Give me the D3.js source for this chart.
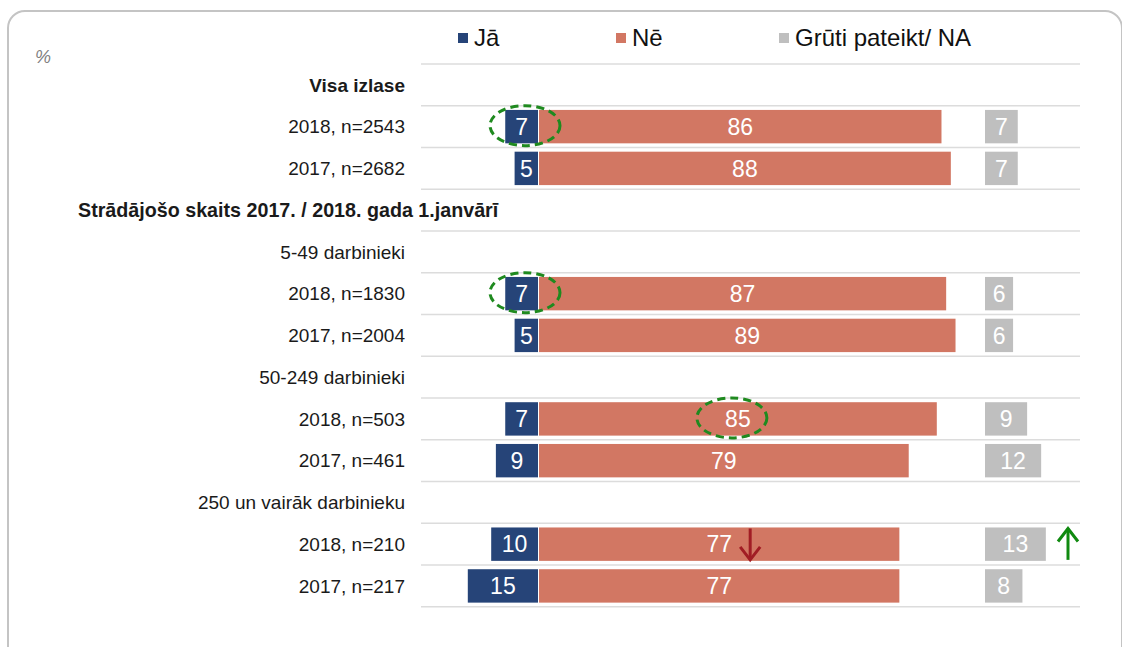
<!DOCTYPE html>
<html>
<head>
<meta charset="utf-8">
<script src="https://cdn.jsdelivr.net/npm/d3@7/dist/d3.min.js"></script>
<style>
  html, body { margin: 0; padding: 0; background: #ffffff; }
  svg { display: block; font-family: "Liberation Sans", Arial, sans-serif; }
</style>
</head>
<body>
<svg id="chart" width="1122" height="647"></svg>
<script>
// Row labels, top to bottom
const categories = [
  "Visa izlase",
  "2018, n=2543",
  "2017, n=2682",
  "Strādājošo skaits 2017. / 2018. gada 1.janvārī",
  "5-49 darbinieki",
  "2018, n=1830",
  "2017, n=2004",
  "50-249 darbinieki",
  "2018, n=503",
  "2017, n=461",
  "250 un vairāk darbinieku",
  "2018, n=210",
  "2017, n=217"
];
// Group heading rows (bold)
const headingRows = [0, 3];
// Series values, % (null = heading row without bars)
const ja  = [null, 7, 5, null, null, 7, 5, null, 7, 9, null, 10, 15];
const ne  = [null, 86, 88, null, null, 87, 89, null, 85, 79, null, 77, 77];
const na  = [null, 7, 7, null, null, 6, 6, null, 9, 12, null, 13, 8];
const seriesNames = ["Jā", "Nē", "Grūti pateikt/ NA"];
const colors = ["#264478", "#D27763", "#BFBFBF"];
// Highlighted values: [row, series index]
const circled = [[1, 0], [5, 0], [8, 1]];
// Significant changes: [row, series index, direction]
const changes = [[11, 1, "down"], [11, 2, "up"]];

const svg = d3.select("#chart");

// Rounded frame
svg.append("rect")
  .attr("x", 8).attr("y", 11)
  .attr("width", 1114).attr("height", 660)
  .attr("rx", 17).attr("ry", 17)
  .attr("fill", "none")
  .attr("stroke", "#C4C4C4")
  .attr("stroke-width", 2);

svg.append("text")
  .attr("x", 35).attr("y", 63)
  .attr("font-size", 18).attr("font-style", "italic")
  .attr("fill", "#7F7F7F")
  .text("%");

const rows = d3.range(categories.length);
const y = d3.scaleBand().domain(rows).range([64, 606.8]).paddingInner(0.2).paddingOuter(0.1);
const step = y.step();
const gridX0 = 421, gridX1 = 1080;

// Row separators
svg.append("g").selectAll("line")
  .data(d3.range(categories.length + 1))
  .join("line")
  .attr("x1", gridX0).attr("x2", gridX1)
  .attr("y1", i => 64 + i * step).attr("y2", i => 64 + i * step)
  .attr("stroke", "#DCDCDC").attr("stroke-width", 1.6);

// Value scale (px per percentage point)
const x = d3.scaleLinear().domain([0, 100]).range([0, 468]);
const base = 538;      // split between Jā and Nē
const naStart = 985;   // start of the "Grūti pateikt" column

// Category labels
svg.append("g").selectAll("text")
  .data(rows)
  .join("text")
  .attr("x", i => i === 3 ? 78 : 405)
  .attr("y", i => y(i) + y.bandwidth() / 2)
  .attr("dy", "0.35em")
  .attr("text-anchor", i => i === 3 ? "start" : "end")
  .attr("font-size", i => i === 3 ? 19.7 : 19)
  .attr("font-weight", i => headingRows.includes(i) ? "bold" : "normal")
  .attr("fill", "#1a1a1a")
  .text(i => categories[i]);

const dataRows = rows.filter(i => ja[i] !== null);

const barG = svg.append("g");
// Jā, drawn leftwards from the split
barG.selectAll("rect.ja").data(dataRows).join("rect")
  .attr("class", "ja")
  .attr("x", i => base - x(ja[i]))
  .attr("y", i => y(i))
  .attr("width", i => x(ja[i]))
  .attr("height", y.bandwidth())
  .attr("fill", colors[0]);
// Nē, drawn rightwards
barG.selectAll("rect.ne").data(dataRows).join("rect")
  .attr("class", "ne")
  .attr("x", base + 1)
  .attr("y", i => y(i))
  .attr("width", i => x(ne[i]))
  .attr("height", y.bandwidth())
  .attr("fill", colors[1]);
// Grūti pateikt / NA, separate column
barG.selectAll("rect.na").data(dataRows).join("rect")
  .attr("class", "na")
  .attr("x", naStart)
  .attr("y", i => y(i))
  .attr("width", i => x(na[i]))
  .attr("height", y.bandwidth())
  .attr("fill", colors[2]);

// Value labels
function labelX(i, s) {
  if (s === 0) return base - x(ja[i]) / 2;
  if (s === 1) return base + 1 + x(ne[i]) / 2;
  return naStart + x(na[i]) / 2;
}
const seriesVals = [ja, ne, na];
const labelData = [];
dataRows.forEach(i => [0, 1, 2].forEach(s => labelData.push({ i, s, v: seriesVals[s][i] })));
svg.append("g").selectAll("text")
  .data(labelData)
  .join("text")
  .attr("x", d => labelX(d.i, d.s))
  .attr("y", d => y(d.i) + y.bandwidth() / 2)
  .attr("dy", "0.36em")
  .attr("text-anchor", "middle")
  .attr("font-size", 23)
  .attr("fill", "#ffffff")
  .text(d => d.v);

// Legend
const legendX = [458, 616, 779];
const lg = svg.append("g").selectAll("g").data(seriesNames).join("g")
  .attr("transform", (d, k) => `translate(${legendX[k]},0)`);
lg.append("rect").attr("x", 0).attr("y", 33).attr("width", 10).attr("height", 10)
  .attr("fill", (d, k) => colors[k]);
lg.append("text").attr("x", 16).attr("y", 46)
  .attr("font-size", 24).attr("fill", "#111111")
  .text(d => d);

// Dashed ellipses around highlighted values
svg.append("g").selectAll("ellipse")
  .data(circled)
  .join("ellipse")
  .attr("cx", ([i, s]) => s === 0 ? base - 13 : labelX(i, s) - 6)
  .attr("cy", ([i]) => y(i) + y.bandwidth() / 2 - 1)
  .attr("rx", 35).attr("ry", 20)
  .attr("fill", "none")
  .attr("stroke", "#1F8A1F")
  .attr("stroke-width", 3)
  .attr("stroke-dasharray", "8 5");

// Change arrows
const arrowG = svg.append("g");
changes.forEach(([i, s, dir]) => {
  const cx = s === 1 ? labelX(i, s) + 31 : 1068;
  const top = y(i) + 1, bot = y(i) + y.bandwidth() - 1;
  const col = dir === "down" ? "#A11D24" : "#108A10";
  const tip = dir === "down" ? bot : top;
  const sgn = dir === "down" ? -1 : 1;
  arrowG.append("line")
    .attr("x1", cx).attr("x2", cx).attr("y1", top).attr("y2", bot)
    .attr("stroke", col).attr("stroke-width", 3);
  arrowG.append("path")
    .attr("d", `M${cx - 10},${tip + sgn * 13} L${cx},${tip} L${cx + 10},${tip + sgn * 13}`)
    .attr("fill", "none").attr("stroke", col).attr("stroke-width", 3)
    .attr("stroke-linejoin", "miter");
});
</script>
</body>
</html>
